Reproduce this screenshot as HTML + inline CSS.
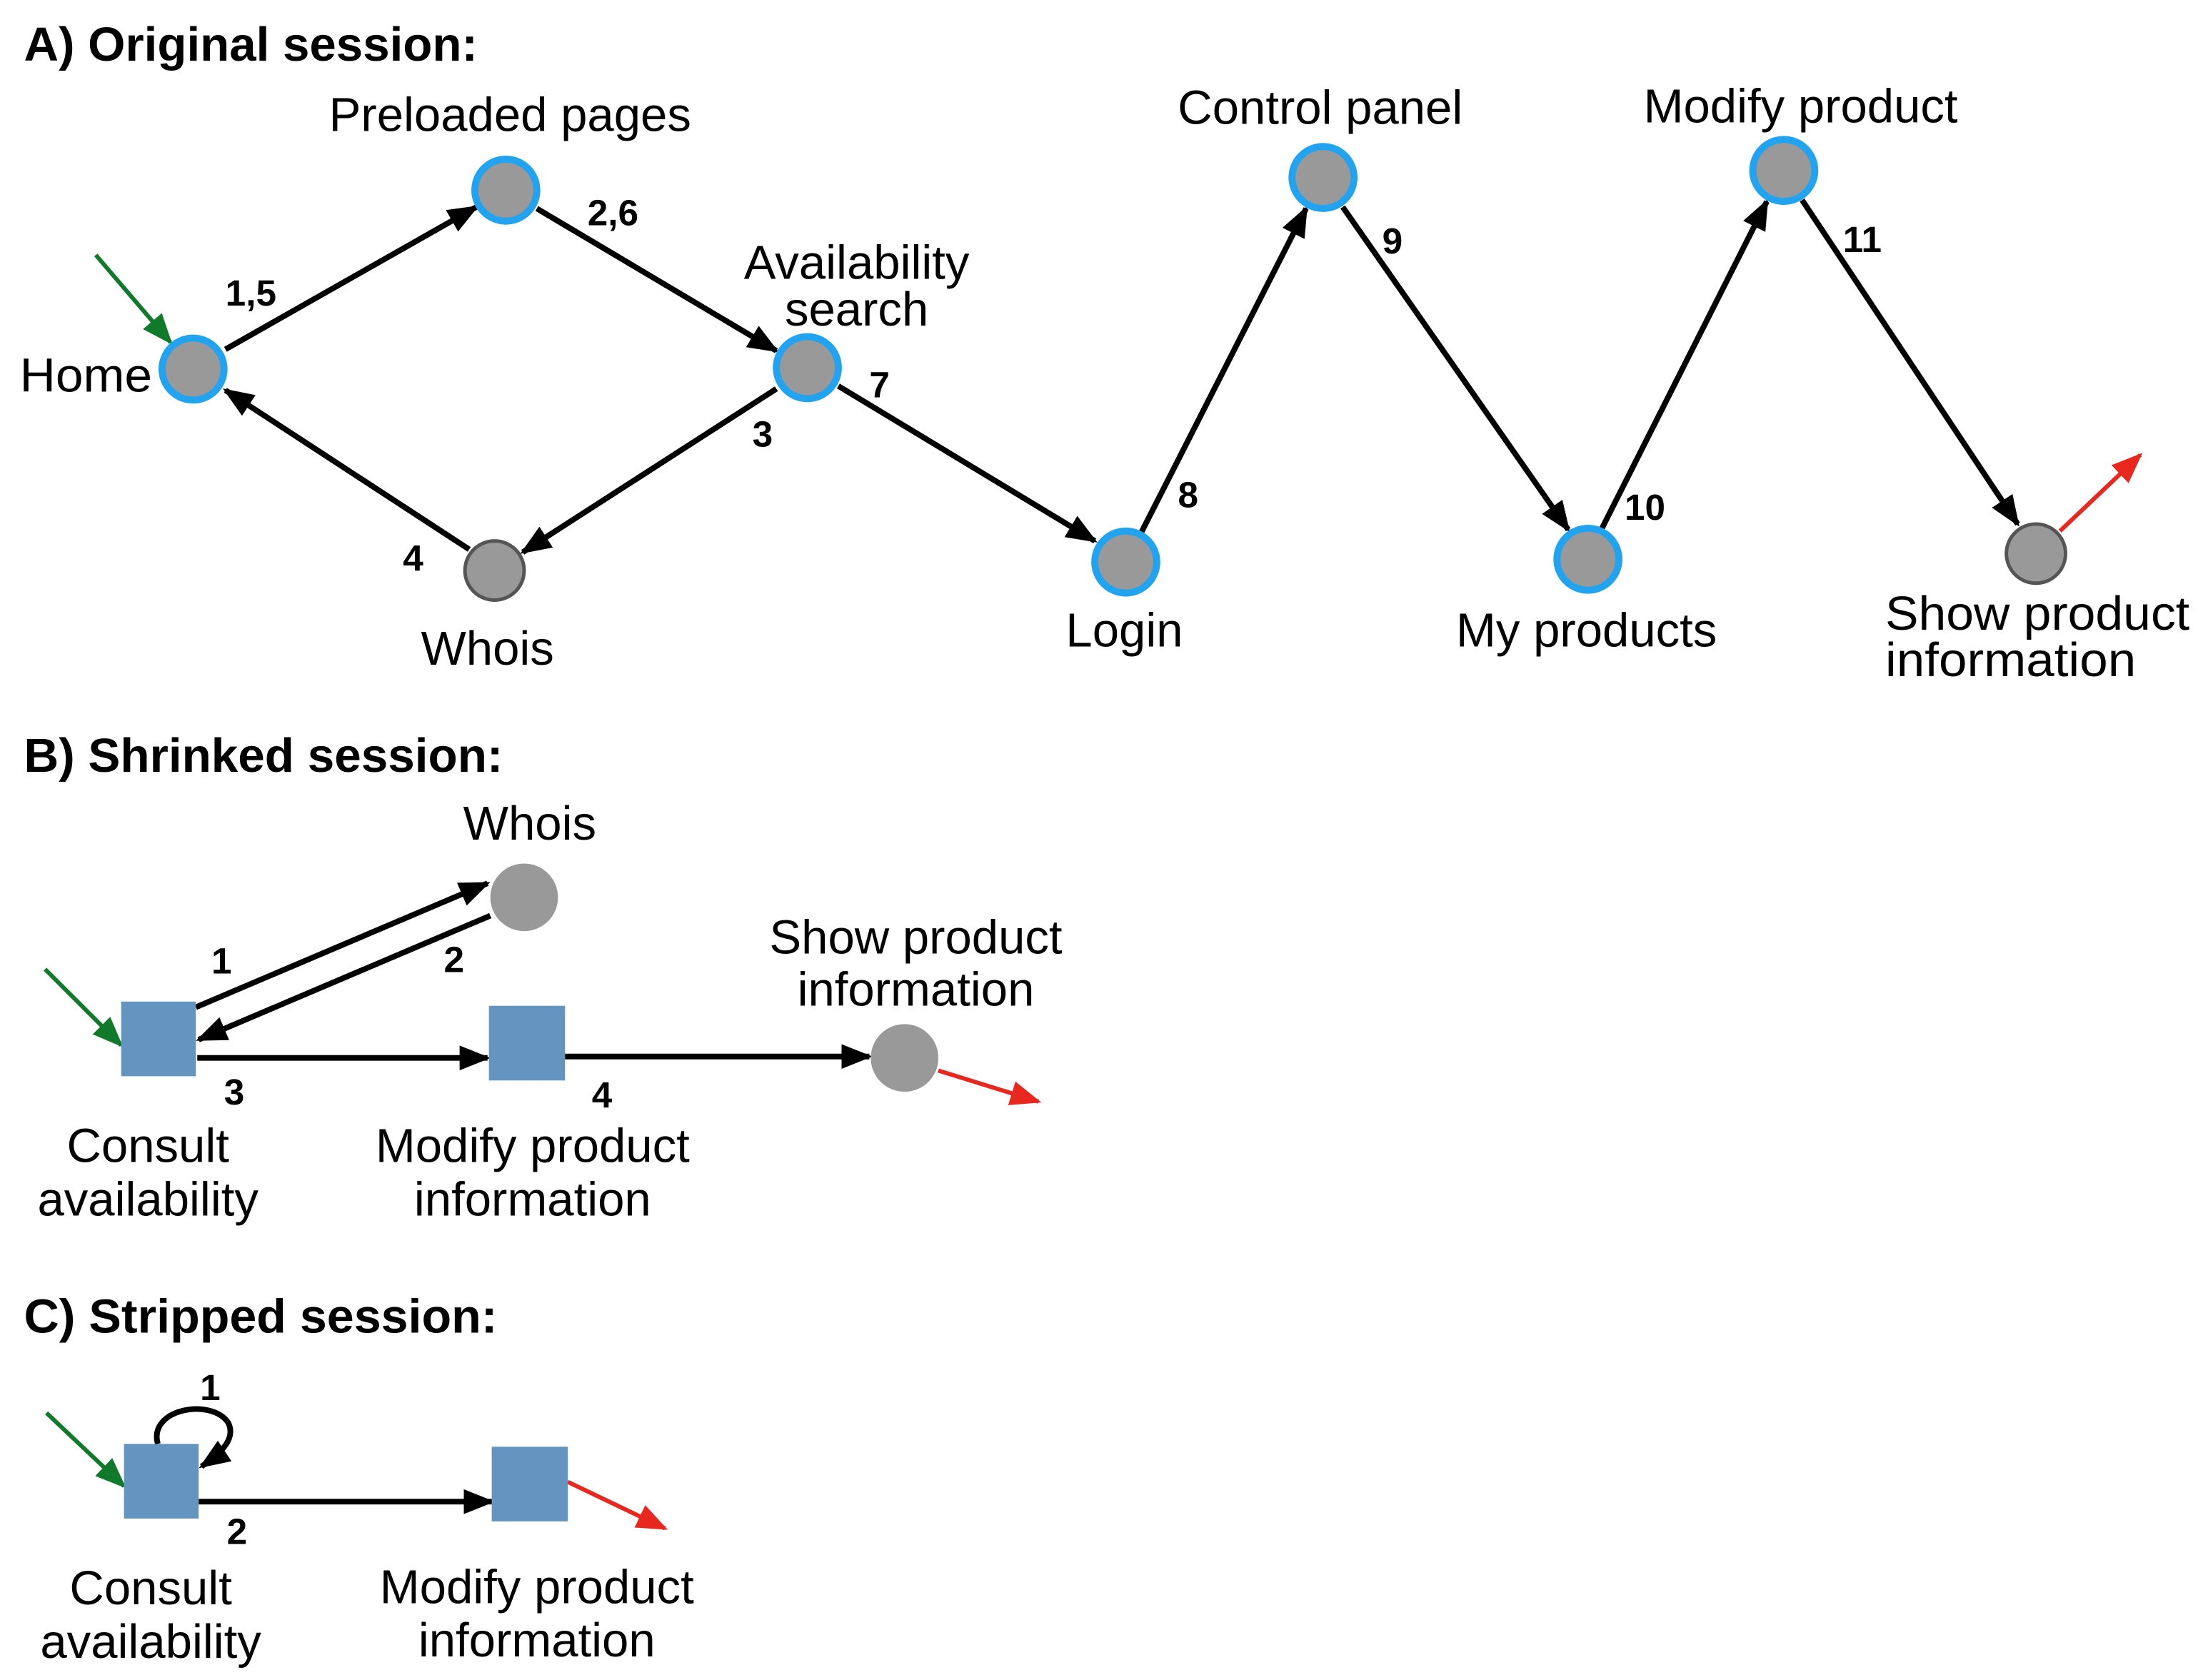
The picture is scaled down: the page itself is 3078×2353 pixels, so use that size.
<!DOCTYPE html>
<html><head><meta charset="utf-8"><style>html,body{margin:0;padding:0;background:#fff}svg{display:block}</style></head>
<body>
<svg width="3078" height="2353" viewBox="0 0 1560 1192.6" preserveAspectRatio="none" xmlns="http://www.w3.org/2000/svg" font-family="Liberation Sans, sans-serif">
<defs>
<marker id="k" viewBox="0 0 10 10" refX="9" refY="5" markerWidth="22" markerHeight="22" markerUnits="userSpaceOnUse" orient="auto"><path d="M0,1 L10,5 L0,9 z" fill="#000"/></marker>
<marker id="g" viewBox="0 0 10 10" refX="9" refY="5" markerWidth="22" markerHeight="22" markerUnits="userSpaceOnUse" orient="auto"><path d="M0,1 L10,5 L0,9 z" fill="#117a2a"/></marker>
<marker id="r" viewBox="0 0 10 10" refX="9" refY="5" markerWidth="22" markerHeight="22" markerUnits="userSpaceOnUse" orient="auto"><path d="M0,1 L10,5 L0,9 z" fill="#e8281e"/></marker>
</defs>
<g font-weight="bold" font-size="34" fill="#000">
<text x="17" y="43" textLength="322" lengthAdjust="spacingAndGlyphs">A) Original session:</text>
<text x="17" y="548" textLength="340" lengthAdjust="spacingAndGlyphs">B) Shrinked session:</text>
<text x="17" y="946" textLength="336" lengthAdjust="spacingAndGlyphs">C) Stripped session:</text>
</g>
<g stroke="#000" stroke-width="4" fill="none" marker-end="url(#k)">
<line x1="160" y1="248" x2="338" y2="147"/>
<line x1="381" y1="148" x2="551" y2="249"/>
<line x1="551" y1="276" x2="371" y2="392"/>
<line x1="333" y1="390" x2="160" y2="277"/>
<line x1="595" y1="274" x2="777" y2="384"/>
<line x1="810" y1="378" x2="927" y2="148"/>
<line x1="953" y1="147" x2="1113" y2="376"/>
<line x1="1137" y1="375" x2="1254" y2="143"/>
<line x1="1279" y1="142" x2="1432" y2="372"/>
<line x1="139" y1="715" x2="346" y2="627"/>
<line x1="348" y1="650" x2="141" y2="738"/>
<line x1="140" y1="751" x2="346" y2="751"/>
<line x1="401" y1="750" x2="617" y2="750"/>
<line x1="141" y1="1066" x2="349" y2="1066"/>
<path d="M112,1025 C105,1000 150,992 162,1010 C168,1022 155,1033 143,1041"/>
</g>
<g stroke="#117a2a" stroke-width="3" marker-end="url(#g)">
<line x1="68" y1="181" x2="121" y2="243"/>
<line x1="32" y1="688" x2="86" y2="742"/>
<line x1="33" y1="1003" x2="88" y2="1055"/>
</g>
<g stroke="#e8281e" stroke-width="3" marker-end="url(#r)">
<line x1="1462" y1="377" x2="1519" y2="323"/>
<line x1="666" y1="760" x2="737" y2="782"/>
<line x1="403" y1="1052" x2="472" y2="1085"/>
</g>
<g fill="#999" stroke="#22a3f0" stroke-width="5">
<circle cx="137" cy="262" r="22"/>
<circle cx="359" cy="135" r="22"/>
<circle cx="573" cy="261" r="22"/>
<circle cx="799" cy="399" r="22"/>
<circle cx="939" cy="126" r="22"/>
<circle cx="1127" cy="397" r="22"/>
<circle cx="1266" cy="121" r="22"/>
</g>
<g fill="#999" stroke="#555" stroke-width="2.5">
<circle cx="351" cy="405" r="21"/>
<circle cx="1445" cy="393" r="21"/>
</g>
<g fill="#999">
<circle cx="372" cy="637" r="24"/>
<circle cx="642" cy="751" r="24"/>
</g>
<g fill="#6495c1">
<rect x="86" y="711" width="53" height="53"/>
<rect x="347" y="714" width="54" height="53"/>
<rect x="88" y="1025" width="53" height="53"/>
<rect x="349" y="1027" width="54" height="53"/>
</g>
<g font-size="34" fill="#000">
<text x="362" y="93" text-anchor="middle">Preloaded pages</text>
<text x="14" y="278" textLength="94" lengthAdjust="spacingAndGlyphs">Home</text>
<text x="608" y="198" text-anchor="middle">Availability</text>
<text x="608" y="231" text-anchor="middle">search</text>
<text x="346" y="472" text-anchor="middle">Whois</text>
<text x="798" y="459" text-anchor="middle">Login</text>
<text x="937" y="88" text-anchor="middle">Control panel</text>
<text x="1126" y="459" text-anchor="middle">My products</text>
<text x="1278" y="87" text-anchor="middle">Modify product</text>
<text x="1338" y="447" textLength="216" lengthAdjust="spacingAndGlyphs">Show product</text>
<text x="1338" y="480" textLength="178" lengthAdjust="spacingAndGlyphs">information</text>
<text x="376" y="596" text-anchor="middle">Whois</text>
<text x="650" y="677" text-anchor="middle">Show product</text>
<text x="650" y="714" text-anchor="middle">information</text>
<text x="105" y="825" text-anchor="middle">Consult</text>
<text x="105" y="863" text-anchor="middle">availability</text>
<text x="378" y="825" text-anchor="middle">Modify product</text>
<text x="378" y="863" text-anchor="middle">information</text>
<text x="107" y="1139" text-anchor="middle">Consult</text>
<text x="107" y="1177" text-anchor="middle">availability</text>
<text x="381" y="1138" text-anchor="middle">Modify product</text>
<text x="381" y="1176" text-anchor="middle">information</text>
</g>
<g font-size="26" font-weight="bold" fill="#000">
<text x="160" y="217">1,5</text>
<text x="417" y="160">2,6</text>
<text x="534" y="317">3</text>
<text x="286" y="405">4</text>
<text x="617" y="282">7</text>
<text x="836" y="360">8</text>
<text x="981" y="180">9</text>
<text x="1153" y="369">10</text>
<text x="1308" y="179">11</text>
<text x="150" y="691">1</text>
<text x="315" y="690">2</text>
<text x="159" y="784">3</text>
<text x="420" y="786">4</text>
<text x="142" y="994">1</text>
<text x="161" y="1096">2</text>
</g>
</svg>
</body></html>
